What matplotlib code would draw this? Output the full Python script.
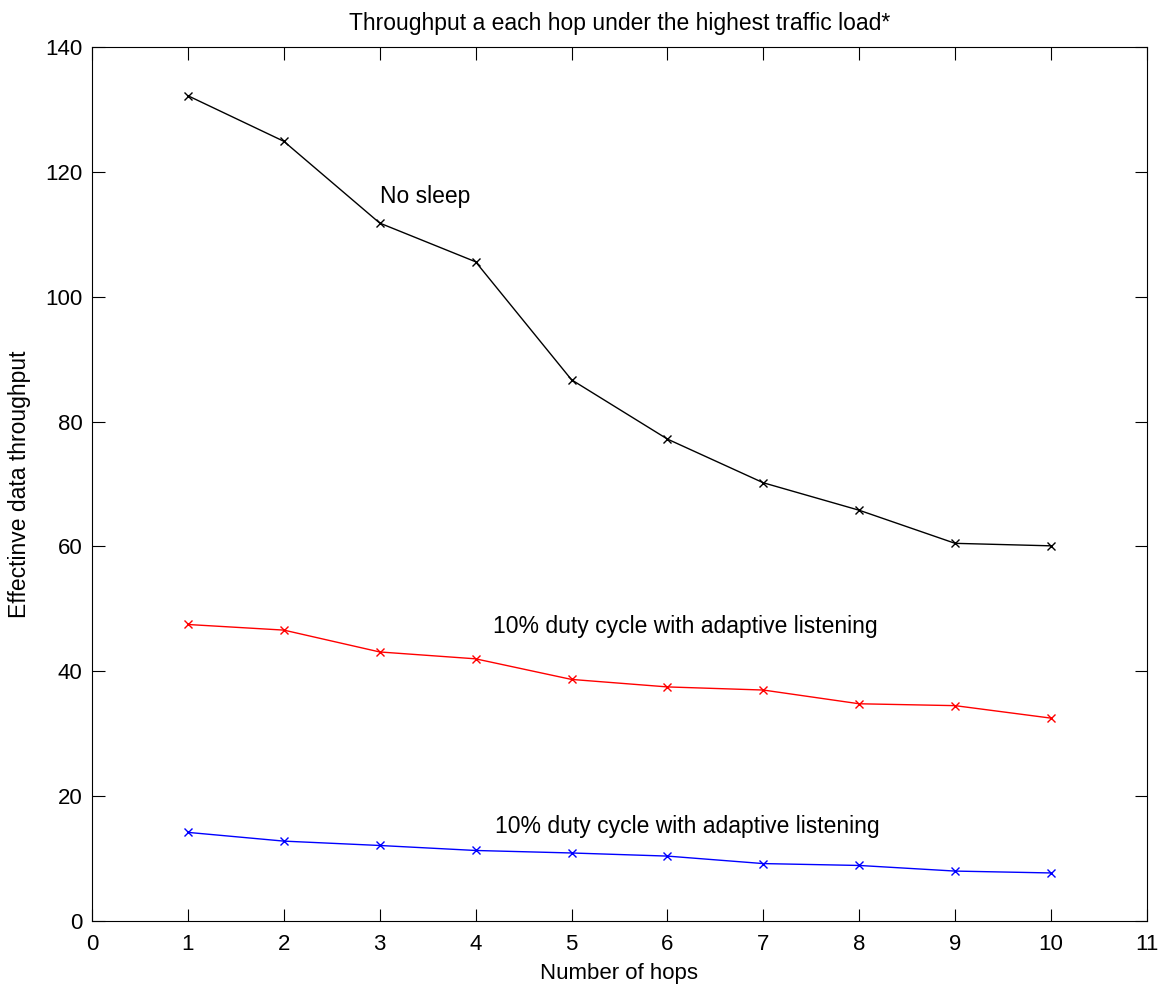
import matplotlib
matplotlib.use("Agg")
from matplotlib import pyplot as plt

hops = [1, 2, 3, 4, 5, 6, 7, 8, 9, 10]
no_sleep = [132.2, 124.9, 111.8, 105.6, 86.7, 77.2, 70.2, 65.8, 60.5, 60.1]
duty_adaptive = [47.5, 46.6, 43.1, 42.0, 38.7, 37.5, 37.0, 34.8, 34.5, 32.5]
duty_plain = [14.2, 12.8, 12.1, 11.3, 10.9, 10.4, 9.2, 8.9, 8.0, 7.7]

plt.rcParams['font.family'] = ['Liberation Sans', 'DejaVu Sans']

fig = plt.figure(figsize=(11.62, 9.86), dpi=100)
ax = fig.add_axes([0.0792, 0.0659, 0.9078, 0.8864])

ax.plot(hops, no_sleep, color='black', marker='x', markersize=6, linewidth=1)
ax.plot(hops, duty_adaptive, color='red', marker='x', markersize=6, linewidth=1)
ax.plot(hops, duty_plain, color='blue', marker='x', markersize=6, linewidth=1)

ax.text(3.0, 116, "No sleep", fontsize=16.5, va='center')
ax.text(4.18, 47.2, "10% duty cycle with adaptive listening", fontsize=16.5, va='center')
ax.text(4.2, 15.2, "10% duty cycle with adaptive listening", fontsize=16.5, va='center')

ax.set_xlim(0, 11)
ax.set_ylim(0, 140)
ax.set_xticks(range(0, 12))
ax.set_yticks(range(0, 141, 20))
ax.tick_params(direction='in', top=True, right=True, labelsize=16, length=9)
ax.tick_params(axis='x', pad=9)
ax.tick_params(axis='y', pad=7)
ax.set_xlabel("Number of hops", fontsize=16, labelpad=6)
ax.set_ylabel("Effectinve data throughput", fontsize=16.5, labelpad=10)
ax.set_title("Throughput a each hop under the highest traffic load*", fontsize=16.5, pad=12)

fig.savefig("out.png", dpi=100)
